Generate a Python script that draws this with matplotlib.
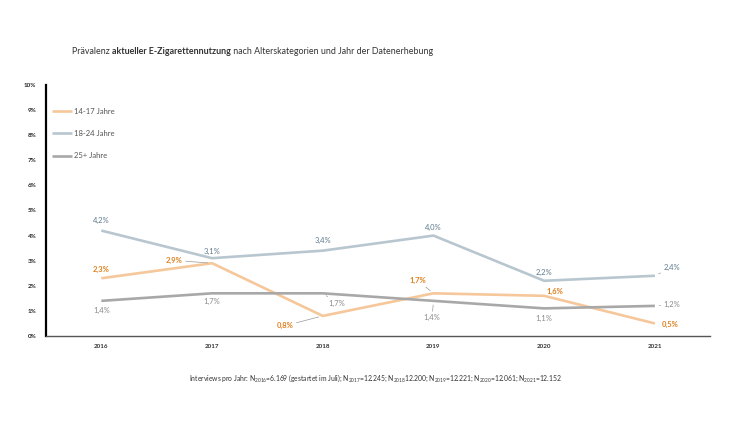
import matplotlib
matplotlib.use("Agg")
import matplotlib.pyplot as plt

plt.rcParams['font.family'] = ['Lato', 'DejaVu Sans']
plt.rcParams['mathtext.fontset'] = 'custom'
plt.rcParams['mathtext.rm'] = 'Lato'

years = ['2016', '2017', '2018', '2019', '2020', '2021']
teen = [2.3, 2.9, 0.8, 1.7, 1.6, 0.5]
young = [4.2, 3.1, 3.4, 4.0, 2.2, 2.4]
adult = [1.4, 1.7, 1.7, 1.4, 1.1, 1.2]
names = ['14-17 Jahre', '18-24 Jahre', '25+ Jahre']
yticks = list(range(0, 11))

c_teen, c_teen_t = '#F5C79A', '#E0801E'
c_young, c_young_t = '#B8C6CF', '#5F7A8C'
c_adult, c_adult_t = '#A8A8A8', '#8A8A8A'

fig = plt.figure(figsize=(7.5, 4.22), dpi=100)
ax = fig.add_axes([0.0613, 0.2038, 0.8857, 0.5948])
x = range(len(years))

ax.plot(x, teen, color=c_teen, lw=1.9, label=names[0], solid_capstyle='butt')
ax.plot(x, young, color=c_young, lw=1.9, label=names[1], solid_capstyle='butt')
ax.plot(x, adult, color=c_adult, lw=1.9, label=names[2], solid_capstyle='butt')

ax.set_xlim(-0.5, 5.5)
ax.set_ylim(0, 10)
ax.set_xticks(list(x))
ax.set_xticklabels(years, fontsize=4.5, fontweight='bold', color='#333333')
ax.set_yticks(yticks)
ax.set_yticklabels([f'{v}%' for v in yticks], fontsize=4.5, fontweight='bold', color='#222222')
ax.tick_params(length=0, pad=6)
ax.tick_params(axis='y', pad=7)
for s in ['top', 'right']:
    ax.spines[s].set_visible(False)
ax.spines['left'].set_linewidth(1.6)
ax.spines['left'].set_color('black')
ax.spines['bottom'].set_linewidth(1.0)
ax.spines['bottom'].set_color('#555555')


def fmt(v):
    return f'{v:.1f}%'.replace('.', ',')


# label offsets in points (dx, dy), leader line flag
off_teen = [(0, 6, False), (-27, 2, True), (-27, -7, True), (-11, 9, True), (8, 3, False), (11, -1, False)]
off_young = [(0, 7, False), (0, 5, False), (0, 7, False), (0, 6, False), (0, 6, False), (12, 6, True)]
off_adult = [(0, -7, False), (0, -6, False), (10, -7, True), (-1, -12, True), (0, -7, False), (12, 1, True)]

for vals, offs, col, bold in [(teen, off_teen, c_teen_t, True),
                              (young, off_young, c_young_t, False),
                              (adult, off_adult, c_adult_t, False)]:
    for i, (v, (dx, dy, lead)) in enumerate(zip(vals, offs)):
        kw = dict(textcoords='offset points', xytext=(dx, dy), ha='center', va='center',
                  fontsize=5.5, color=col, fontweight='bold' if bold else 'normal')
        if lead:
            kw['arrowprops'] = dict(arrowstyle='-', color='#999999', lw=0.5, shrinkA=0, shrinkB=3)
        ax.annotate(fmt(v), (i, v), **kw)

ax.legend(loc='upper left', bbox_to_anchor=(0.005, 0.922), frameon=False, fontsize=5.5,
          handlelength=2.6, handletextpad=0.2, labelspacing=2.0, borderaxespad=0,
          labelcolor='#555555')

# title with bold middle part
renderer = fig.canvas.get_renderer()
parts = [('Prävalenz ', 'normal'), ('aktueller E-Zigarettennutzung', 'bold'),
         (' nach Alterskategorien und Jahr der Datenerhebung', 'normal')]
xpos = 72 / 750
for txt, w in parts:
    t = fig.text(xpos, 1 - 52 / 422, txt, fontsize=6.4, fontweight=w, color='#333333',
                 ha='left', va='center')
    bb = t.get_window_extent(renderer)
    xpos += bb.width / fig.bbox.width

fig.text(0.5, 1 - 378 / 422,
         r'Interviews pro Jahr: N$_{2016}$=6.169 (gestartet im Juli); N$_{2017}$=12.245; '
         r'N$_{2018}$12.200; N$_{2019}$=12.221; N$_{2020}$=12.061; N$_{2021}$=12.152',
         fontsize=4.9, color='#333333', ha='center', va='center')

fig.savefig('out.png', dpi=100)
